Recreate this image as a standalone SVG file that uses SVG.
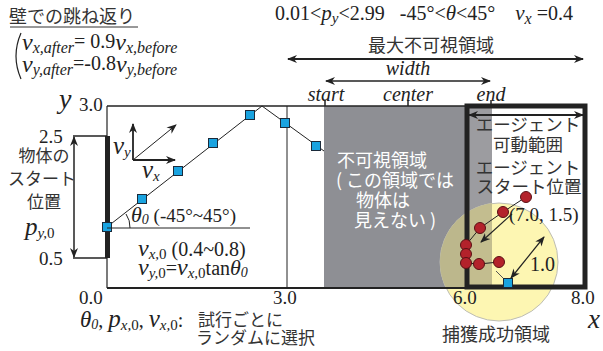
<svg xmlns="http://www.w3.org/2000/svg" width="603" height="351" viewBox="0 0 603 351">
<defs>
<style>
.s{font-family:"Liberation Serif","Times New Roman",serif;fill:#222}
.i{font-style:italic}
.j{font-family:"Noto Sans CJK JP","Noto Sans",sans-serif;fill:#333}
.w{font-family:"Noto Sans CJK JP","Noto Sans",sans-serif;fill:#fff}
.ln{stroke:#222;fill:none}
.sq{fill:#19a3e0;stroke:#1a2a3a;stroke-width:1}
.rc{fill:#b3222b;stroke:#5a1015;stroke-width:1}
</style>
<marker id="ah" viewBox="0 0 10 10" refX="9" refY="5" markerWidth="10" markerHeight="10" markerUnits="userSpaceOnUse" orient="auto-start-reverse">
<path d="M0,1 L10,5 L0,9 L3,5 Z" fill="#222"/>
</marker>
<clipPath id="cc"><circle cx="499" cy="262" r="59"/></clipPath>
</defs>

<g id="title-bounce">
<text class="j" x="9" y="23" font-size="18">壁での跳ね返り</text>
<line x1="10" y1="27" x2="138" y2="27" stroke="#333" stroke-width="1"/>
<path d="M21,33 Q11,56 21,79" class="ln" stroke-width="1.2"/>
<text class="s" x="22" y="50"><tspan class="i" font-size="24">v</tspan><tspan class="i" font-size="16" dy="3">x,after</tspan><tspan font-size="20" dy="-5">= 0.9</tspan><tspan class="i" font-size="24" dy="2">v</tspan><tspan class="i" font-size="16" dy="3">x,before</tspan></text>
<text class="s" x="22" y="72"><tspan class="i" font-size="24">v</tspan><tspan class="i" font-size="16" dy="3">y,after</tspan><tspan font-size="20" dy="-5">=-0.8</tspan><tspan class="i" font-size="24" dy="2">v</tspan><tspan class="i" font-size="16" dy="3">y,before</tspan></text>
</g>

<g id="conditions">
<text class="s" x="275" y="20" font-size="20" xml:space="preserve">0.01&lt;<tspan class="i" font-size="21">p</tspan><tspan class="i" font-size="15" dy="3">y</tspan><tspan dy="-3">&lt;2.99   -45°&lt;</tspan><tspan class="i" font-size="21">θ</tspan>&lt;45°    <tspan class="i" font-size="21">v</tspan><tspan class="i" font-size="16" dy="4">x</tspan><tspan dy="-4"> =0.4</tspan></text>
</g>

<g id="plot-background">
<rect x="324" y="106" width="143" height="182" fill="#8e8f94"/>
<rect x="467" y="106" width="25" height="182" fill="#9c9ca0"/>
<circle cx="499" cy="262" r="59" fill="#fdf6b2" stroke="#bdbdb5" stroke-width="1"/>
<rect x="324" y="106" width="143" height="182" fill="#bcb78c" clip-path="url(#cc)"/>
<rect x="467" y="106" width="25" height="182" fill="#c3bd8f" clip-path="url(#cc)"/>
</g>

<g id="plot-frame">
<line x1="107" y1="106" x2="467" y2="106" class="ln" stroke-width="1.5"/>
<line x1="107" y1="288" x2="467" y2="288" class="ln" stroke-width="2"/>
<line x1="107" y1="106" x2="107" y2="288" class="ln" stroke-width="1.2"/>
<line x1="287" y1="106" x2="287" y2="288" class="ln" stroke-width="1"/>
<rect x="467" y="106" width="118" height="181" class="ln" stroke-width="5"/>
<line x1="325" y1="100" x2="325" y2="106" class="ln" stroke-width="1.5"/>
<line x1="408" y1="100" x2="408" y2="106" class="ln" stroke-width="1.5"/>
<line x1="491" y1="100" x2="491" y2="106" class="ln" stroke-width="1.5"/>
</g>

<g id="axis-labels">
<text class="s i" x="59" y="108" font-size="28">y</text>
<text class="s" x="79" y="111" font-size="19">3.0</text>
<text class="s" x="39" y="143" font-size="19">2.5</text>
<text class="s" x="39" y="265" font-size="19">0.5</text>
<text class="s" x="79" y="304" font-size="19">0.0</text>
<text class="s" x="273" y="304" font-size="19">3.0</text>
<text class="s" x="453" y="304" font-size="19">6.0</text>
<text class="s" x="571" y="304" font-size="19">8.0</text>
<text class="s i" x="588" y="328" font-size="27">x</text>
</g>

<g id="start-range">
<rect x="105" y="136" width="5" height="122" fill="#222"/>
<line x1="73" y1="136" x2="107" y2="136" class="ln" stroke-width="1.5"/>
<line x1="73" y1="258" x2="107" y2="258" class="ln" stroke-width="1.5"/>
<line x1="74" y1="137" x2="74" y2="257" class="ln" stroke-width="1.5" marker-start="url(#ah)" marker-end="url(#ah)"/>
<text class="j" x="44" y="162" font-size="17" text-anchor="middle">物体の</text>
<text class="j" x="42" y="185" font-size="17" text-anchor="middle">スタート</text>
<text class="j" x="44" y="208" font-size="17" text-anchor="middle">位置</text>
<text class="s" x="25" y="235"><tspan class="i" font-size="25">p</tspan><tspan class="i" font-size="15" dy="3">y,</tspan><tspan font-size="15">0</tspan></text>
</g>

<g id="trajectory">
<polyline points="107,227 262,106 324,151" class="ln" stroke-width="1"/>
<rect x="102.5" y="222.5" width="9" height="9" class="sq"/>
<rect x="137.5" y="194.5" width="9" height="9" class="sq"/>
<rect x="173.5" y="166.5" width="9" height="9" class="sq"/>
<rect x="208.5" y="138.5" width="9" height="9" class="sq"/>
<rect x="245.5" y="110.5" width="9" height="9" class="sq"/>
<rect x="280.5" y="118.5" width="9" height="9" class="sq"/>
<rect x="311.5" y="141.5" width="9" height="9" class="sq"/>
</g>

<g id="velocity">
<line x1="133" y1="160" x2="133" y2="124" class="ln" stroke-width="1.8" marker-end="url(#ah)"/>
<line x1="133" y1="160" x2="175" y2="160" class="ln" stroke-width="1.8" marker-end="url(#ah)"/>
<line x1="133" y1="160" x2="176" y2="125" class="ln" stroke-width="1" marker-end="url(#ah)"/>
<text class="s" x="113" y="154"><tspan class="i" font-size="25">v</tspan><tspan class="i" font-size="15" dy="3">y</tspan></text>
<text class="s" x="142" y="178"><tspan class="i" font-size="25">v</tspan><tspan class="i" font-size="15" dy="3">x</tspan></text>
</g>

<g id="initial-angle">
<line x1="107" y1="228" x2="250" y2="228" class="ln" stroke-width="1"/>
<path d="M130,228 A23,23 0 0 0 126,214" class="ln" stroke-width="1"/>
<text class="s" x="131" y="222" font-size="19"><tspan class="i" font-size="22">θ</tspan><tspan class="i" font-size="14" dy="2">0</tspan><tspan dy="-2"> (-45°~45°)</tspan></text>
<text class="s" x="138" y="256" font-size="20"><tspan class="i" font-size="24">v</tspan><tspan class="i" font-size="15" dy="3">x,</tspan><tspan font-size="15">0</tspan><tspan dy="-3"> (0.4~0.8)</tspan></text>
<text class="s" x="138" y="275" font-size="20"><tspan class="i" font-size="24">v</tspan><tspan class="i" font-size="15" dy="3">y,</tspan><tspan font-size="15">0</tspan><tspan dy="-3">=</tspan><tspan class="i" font-size="24">v</tspan><tspan class="i" font-size="15" dy="3">x,</tspan><tspan font-size="15">0</tspan><tspan dy="-3">tan</tspan><tspan class="i" font-size="22">θ</tspan><tspan class="i" font-size="14" dy="2">0</tspan></text>
</g>

<g id="random-note">
<text class="s" x="80" y="327" font-size="20"><tspan class="i" font-size="23">θ</tspan><tspan class="i" font-size="14" dy="2">0</tspan><tspan dy="-2">, </tspan><tspan class="i" font-size="25">p</tspan><tspan class="i" font-size="15" dy="3">x,</tspan><tspan font-size="15">0</tspan><tspan dy="-3">, </tspan><tspan class="i" font-size="25">v</tspan><tspan class="i" font-size="15" dy="3">x,</tspan><tspan font-size="15">0</tspan><tspan dy="-3">:</tspan></text>
<text class="j" x="198" y="326" font-size="17">試行ごとに</text>
<text class="j" x="196" y="344" font-size="17">ランダムに選択</text>
</g>

<g id="invisible-labels">
<text class="j" x="431" y="52" font-size="18" text-anchor="middle">最大不可視領域</text>
<line x1="288" y1="59" x2="583" y2="59" class="ln" stroke-width="2" marker-start="url(#ah)" marker-end="url(#ah)"/>
<text class="s i" x="408" y="75" font-size="20" text-anchor="middle">width</text>
<line x1="326" y1="81" x2="490" y2="81" class="ln" stroke-width="1.5" marker-start="url(#ah)" marker-end="url(#ah)"/>
<text class="s i" x="326" y="101" font-size="20" text-anchor="middle">start</text>
<text class="s i" x="408" y="101" font-size="20" text-anchor="middle">center</text>
<text class="s i" x="491" y="101" font-size="20" text-anchor="middle">end</text>
</g>

<g id="invisible-area">
<text class="w" x="337" y="167" font-size="18">不可視領域</text>
<text class="w" x="336" y="187" font-size="18">( この領域では</text>
<text class="w" x="356" y="207" font-size="18">物体は</text>
<text class="w" x="354" y="227" font-size="18">見えない )</text>
</g>

<g id="agent-area">
<line x1="469" y1="115" x2="583" y2="115" class="ln" stroke-width="2" marker-start="url(#ah)" marker-end="url(#ah)"/>
<text class="j" x="528" y="131" font-size="17.5" text-anchor="middle">エージェント</text>
<text class="j" x="528" y="151" font-size="17.5" text-anchor="middle">可動範囲</text>
<text class="j" x="528" y="174" font-size="17.5" text-anchor="middle">エージェント</text>
<text class="j" x="529" y="193" font-size="17.5" text-anchor="middle">スタート位置</text>
</g>

<g id="agent-path">
<polyline points="526,197 503,212 480,228 466,245 466,263 479,264 499,262" class="ln" stroke-width="1"/>
<line x1="496" y1="271" x2="506" y2="281" stroke="#555" stroke-width="1"/>
<circle cx="526" cy="197" r="5.5" class="rc"/>
<circle cx="503" cy="212" r="5.5" class="rc"/>
<circle cx="480" cy="228" r="5.5" class="rc"/>
<circle cx="466" cy="245" r="5.5" class="rc"/>
<circle cx="466" cy="254" r="5.5" class="rc"/>
<circle cx="466" cy="263" r="5.5" class="rc"/>
<circle cx="479" cy="264" r="5.5" class="rc"/>
<circle cx="499" cy="262" r="5.5" class="rc"/>
<line x1="512" y1="214" x2="481" y2="242" class="ln" stroke-width="1.2" marker-end="url(#ah)"/>
<text class="s" x="509" y="221" font-size="19">(7.0, 1.5)</text>
</g>

<g id="capture-area">
<rect x="503.5" y="278.5" width="9" height="9" class="sq"/>
<line x1="511" y1="278" x2="544" y2="237" class="ln" stroke-width="1.2" marker-start="url(#ah)" marker-end="url(#ah)"/>
<text class="s" x="530" y="271" font-size="20">1.0</text>
<text class="j" x="496" y="341" font-size="18" text-anchor="middle">捕獲成功領域</text>
</g>
</svg>
